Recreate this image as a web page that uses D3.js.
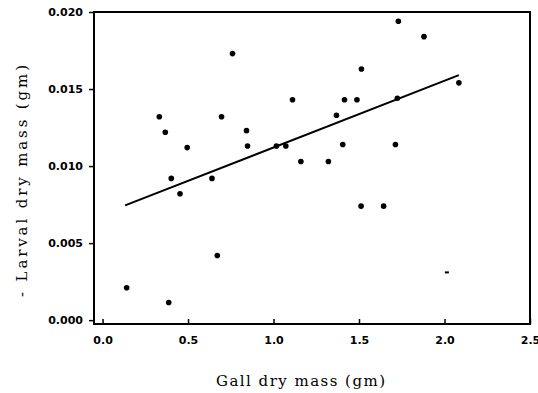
<!DOCTYPE html>
<html><head><meta charset="utf-8">
<script src="https://cdn.jsdelivr.net/npm/d3@7"></script>
<style>
html,body{margin:0;padding:0;background:#fff;overflow:hidden;}
svg{display:block;}
</style></head>
<body>
<svg id="chart" width="538" height="393"></svg>
<script>
// Data
const gallMass = [0.141, 0.387, 0.332, 0.367, 0.402, 0.453, 0.495, 0.640, 0.671, 0.696,
                  0.760, 0.842, 0.848, 1.017, 1.072, 1.111, 1.160, 1.321, 1.368, 1.405,
                  1.415, 1.488, 1.514, 1.512, 1.644, 1.713, 1.724, 1.730, 1.880, 2.084];
const larvalMass = [0.0021, 0.00115, 0.0132, 0.0122, 0.0092, 0.0082, 0.0112, 0.0092, 0.0042, 0.0132,
                    0.0173, 0.0123, 0.0113, 0.0113, 0.0113, 0.0143, 0.0103, 0.0103, 0.0133, 0.0114,
                    0.0143, 0.0143, 0.0163, 0.0074, 0.0074, 0.0114, 0.0144, 0.0194, 0.0184, 0.0154];
// faint, partly printed mark
const faintX = [2.014];
const faintY = [0.0031];
// regression line endpoints
const fitX = [0.132, 2.084];
const fitY = [0.00745, 0.0159];

const xTicks = [0.0, 0.5, 1.0, 1.5, 2.0, 2.5];
const yTicks = [0.000, 0.005, 0.010, 0.015, 0.020];
const xTitle = "Gall dry mass (gm)";
const yTitle = "- Larval dry mass (gm)";

(function () {
const svg = d3.select("#chart");
const mL = 94, mR = 530, mT = 12, mB = 324;

const x = d3.scaleLinear().domain([-0.05, 2.5]).range([mL, mR]);
const y = d3.scaleLinear().domain([-0.00025, 0.020]).range([mB, mT]);

// frame
svg.append("rect")
  .attr("x", mL).attr("y", mT)
  .attr("width", mR - mL).attr("height", mB - mT)
  .attr("fill", "none").attr("stroke", "#000").attr("stroke-width", 2);

// x axis (ticks inward)
const xAxis = d3.axisBottom(x).tickValues(xTicks).tickFormat(d3.format(".1f"))
  .tickSizeInner(-5).tickSizeOuter(0).tickPadding(12);
const gx = svg.append("g").attr("transform", `translate(0,${mB})`).call(xAxis);
gx.select(".domain").remove();
gx.selectAll("line").attr("stroke", "#000").attr("stroke-width", 1.5);
gx.selectAll("text").attr("font-family", "DejaVu Sans").attr("font-weight", "bold")
  .attr("font-size", 11).attr("fill", "#000");

// y axis (ticks outward)
const yAxis = d3.axisLeft(y).tickValues(yTicks).tickFormat(d3.format(".3f"))
  .tickSizeInner(5).tickSizeOuter(0).tickPadding(6);
const gy = svg.append("g").attr("transform", `translate(${mL},0)`).call(yAxis);
gy.select(".domain").remove();
gy.selectAll("line").attr("stroke", "#000").attr("stroke-width", 1.5);
gy.selectAll("text").attr("font-family", "DejaVu Sans").attr("font-weight", "bold")
  .attr("font-size", 11).attr("fill", "#000");

// regression line
svg.append("path")
  .datum(fitX.map((d, i) => [d, fitY[i]]))
  .attr("d", d3.line().x(d => x(d[0])).y(d => y(d[1])))
  .attr("fill", "none").attr("stroke", "#000").attr("stroke-width", 2);

// points
svg.append("g").selectAll("circle")
  .data(gallMass.map((d, i) => [d, larvalMass[i]]))
  .join("circle")
  .attr("cx", d => x(d[0])).attr("cy", d => y(d[1]))
  .attr("r", 2.8).attr("fill", "#000");

svg.append("g").selectAll("rect")
  .data(faintX.map((d, i) => [d, faintY[i]]))
  .join("rect")
  .attr("x", d => x(d[0]) - 2).attr("y", d => y(d[1]) - 1)
  .attr("width", 4).attr("height", 2).attr("fill", "#000");

// titles
svg.append("text")
  .attr("x", 216).attr("y", 386)
  .attr("textLength", 169).attr("lengthAdjust", "spacing")
  .attr("font-family", "DejaVu Serif").attr("font-size", 15)
  .attr("fill", "#000").text(xTitle);

svg.append("text")
  .attr("transform", "translate(27,297) rotate(-90)")
  .attr("textLength", 232).attr("lengthAdjust", "spacing")
  .attr("font-family", "DejaVu Serif").attr("font-size", 15)
  .attr("fill", "#000").text(yTitle);
})();
</script>
</body></html>
